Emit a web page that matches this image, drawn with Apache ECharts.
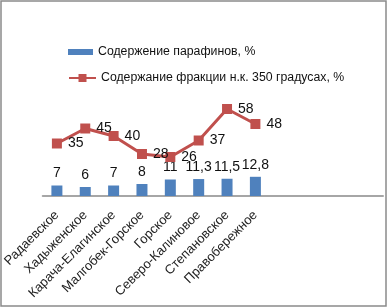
<!DOCTYPE html>
<html>
<head>
<meta charset="utf-8">
<script src="https://cdn.jsdelivr.net/npm/echarts@6/dist/echarts.min.js"></script>
<style>
  html, body { margin: 0; padding: 0; background: #fff; }
  #chart { width: 388px; height: 308px; }
</style>
</head>
<body>
<div id="chart"></div>
<script>
// fields, plus 4 empty slots that Excel left on the axis
const categories = [
  "Радаевское",
  "Хадыженское",
  "Карача-Елагинское",
  "Малгобек-Горское",
  "Горское",
  "Северо-Калиновое",
  "Степановское",
  "Правобережное",
  "", "", "", "",
];
const paraffin = [7, 6, 7, 8, 11, 11.3, 11.5, 12.8];
const fraction350 = [35, 45, 40, 28, 26, 37, 58, 48];

const barName = "Содержение парафинов, %";
const lineName = "Содержание фракции н.к. 350 градусах, %";

const font = "'Liberation Sans', Arial, sans-serif";
const comma = (p) => String(p.value).replace(".", ",");

const chart = echarts.init(document.getElementById("chart"));
chart.setOption({
  animation: false,
  textStyle: { fontFamily: font },
  graphic: [
    {
      type: "rect",
      shape: { x: 1, y: 1, width: 385, height: 305 },
      style: { fill: "none", stroke: "#8a8a8a", lineWidth: 1.5 },
    },
  ],
  legend: [
    {
      data: [{ name: barName, icon: "rect" }],
      left: 63,
      top: 41,
      itemWidth: 25,
      itemHeight: 6,
      itemGap: 4,
      textStyle: { fontSize: 12.3, color: "#111", fontFamily: font },
    },
    {
      data: [lineName],
      left: 63,
      top: 67,
      itemWidth: 27,
      itemHeight: 10,
      textStyle: { fontSize: 12.3, color: "#111", fontFamily: font },
    },
  ],
  grid: { left: 41, right: 5, top: 91, bottom: 112, containLabel: false },
  xAxis: {
    type: "category",
    data: categories,
    axisLine: { lineStyle: { color: "#a6a6a6", width: 2 } },
    axisTick: { show: false },
    axisLabel: {
      rotate: 45,
      interval: 0,
      margin: 17,
      fontSize: 13,
      color: "#222",
      fontFamily: font,
    },
  },
  yAxis: {
    type: "value",
    min: 0,
    max: 70,
    show: false,
    splitLine: { show: false },
  },
  series: [
    {
      name: barName,
      type: "bar",
      data: paraffin,
      barWidth: 11,
      itemStyle: { color: "#4f81bd" },
      label: {
        show: true,
        position: "top",
        distance: 5,
        fontSize: 14,
        color: "#111",
        formatter: comma,
      },
    },
    {
      name: lineName,
      type: "line",
      data: fraction350,
      symbol: "rect",
      symbolSize: 10,
      lineStyle: { color: "#c0504d", width: 3 },
      itemStyle: { color: "#c0504d" },
      label: {
        show: true,
        position: "right",
        distance: 6,
        fontSize: 14,
        color: "#111",
        formatter: comma,
      },
    },
  ],
});
</script>
</body>
</html>
